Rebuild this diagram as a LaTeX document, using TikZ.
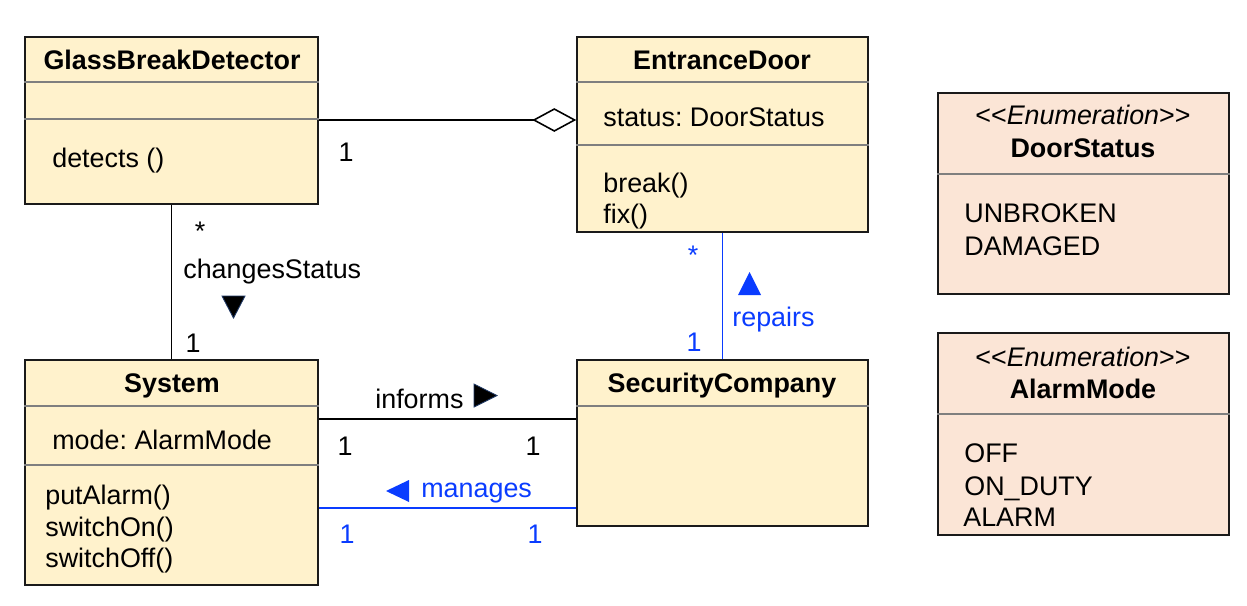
\documentclass[tikz,border=0pt]{standalone}
\usepackage{fontspec}
\setmainfont{Liberation Sans}
\usetikzlibrary{fit,arrows.meta}
\definecolor{cls}{HTML}{FFF2CC}
\definecolor{enm}{HTML}{FBE5D6}
\definecolor{blu}{HTML}{0A3CFF}
\definecolor{bdr}{HTML}{1A1A1A}
\definecolor{dvd}{HTML}{7F7F7F}
\definecolor{tri}{HTML}{1F3864}
\newcommand{\fs}{\fontsize{15.3}{18}\selectfont\frenchspacing}
\begin{document}
\begin{tikzpicture}[x=0.02cm,y=-0.02cm,
  umlbox/.style={draw=bdr, line width=0.85pt, inner sep=0pt},
  divider/.style={draw=dvd, line width=0.6pt},
  lbl/.style={inner sep=0pt, anchor=base west, font=\fs},
  ctr/.style={inner sep=0pt, anchor=base, font=\fs},
  ttl/.style={inner sep=0pt, anchor=base, font=\fs\bfseries},
  conn/.style={line width=0.9pt, draw=black},
  bconn/.style={line width=0.9pt, draw=blu},
  btxt/.style={text=blu}
]
\useasboundingbox (0,0) rectangle (1247,605);

% ---- classes
\node[umlbox, fill=cls, fit={(25,37)(318,204)}] (gbd) {};
\node[umlbox, fill=cls, fit={(577,37)(868,232)}] (ed) {};
\node[umlbox, fill=cls, fit={(25,360)(318,585)}] (sys) {};
\node[umlbox, fill=cls, fit={(577,360)(868,526)}] (sc) {};
\node[umlbox, fill=enm, fit={(938,93)(1229,294)}] (ds) {};
\node[umlbox, fill=enm, fit={(938,333)(1229,535)}] (am) {};

% ---- dividers
\draw[divider] (gbd.west |- 0,82) -- (gbd.east |- 0,82);
\draw[divider] (gbd.west |- 0,119) -- (gbd.east |- 0,119);
\draw[divider] (ed.west |- 0,82) -- (ed.east |- 0,82);
\draw[divider] (ed.west |- 0,145) -- (ed.east |- 0,145);
\draw[divider] (sys.west |- 0,406) -- (sys.east |- 0,406);
\draw[divider] (sys.west |- 0,465) -- (sys.east |- 0,465);
\draw[divider] (sc.west |- 0,406) -- (sc.east |- 0,406);
\draw[divider] (ds.west |- 0,174) -- (ds.east |- 0,174);
\draw[divider] (am.west |- 0,414) -- (am.east |- 0,414);

% ---- class texts
\node[ttl] (gbdT) at (172,69) {GlassBreakDetector};
\node[lbl] (gbdM) at (52,167) {detects ()};
\node[ttl] (edT) at (722,69) {EntranceDoor};
\node[lbl] (edA) at (603,126) {status: DoorStatus};
\node[lbl] (edM1) at (603,192) {break()};
\node[lbl] (edM2) at (603,223) {fix()};
\node[ttl] (sysT) at (172,392) {System};
\node[lbl] (sysA) at (52,449) {mode: AlarmMode};
\node[lbl] (sysM1) at (45,504) {putAlarm()};
\node[lbl] (sysM2) at (45,536) {switchOn()};
\node[lbl] (sysM3) at (45,567) {switchOff()};
\node[ttl] (scT) at (722,392) {SecurityCompany};

\node[ctr] (dsS) at (1083,124) {<{}<\textit{Enumeration}>{}>};
\node[ttl] (dsT) at (1083,157) {DoorStatus};
\node[lbl] (dsL1) at (964,222) {UNBROKEN};
\node[lbl] (dsL2) at (964,255) {DAMAGED};
\node[ctr] (amS) at (1083,366) {<{}<\textit{Enumeration}>{}>};
\node[ttl] (amT) at (1083,398) {AlarmMode};
\node[lbl] (amL1) at (964,462) {OFF};
\node[lbl] (amL2) at (964,495) {ON\_DUTY};
\node[lbl] (amL3) at (963,526) {ALARM};

% ---- connectors
\draw[conn, -{Diamond[open, fill=white, length=25pt, width=13.5pt]}]
  (gbd.east |- 0,120) -- (ed.west |- 0,120);
\node[ctr] (m1) at (346,161) {1};

\draw[conn] (gbd.south) -- (sys.north);
\node[ctr] (m2) at (200,240) {*};
\node[lbl] (cs) at (183,278) {changesStatus};
\draw[fill=black, draw=tri, line width=0.5pt] (222,296) -- (245,296) -- (233.5,318) -- cycle;
\node[ctr] (m3) at (193,352) {1};

\draw[bconn] (ed.south) -- (sc.north);
\node[ctr, btxt] (m4) at (693,264) {*};
\fill[blu] (738,295) -- (761,295) -- (749.5,272) -- cycle;
\node[lbl, btxt] (rep) at (732,326) {repairs};
\node[ctr, btxt] (m5) at (694,351) {1};

\draw[conn] (sys.east |- 0,419) -- (sc.west |- 0,419);
\node[lbl] (inf) at (375,408) {informs};
\draw[fill=black, draw=tri, line width=0.5pt] (474,384) -- (474,407) -- (497,395.5) -- cycle;
\node[ctr] (m6) at (345,455) {1};
\node[ctr] (m7) at (533,455) {1};

\draw[bconn] (sys.east |- 0,508) -- (sc.west |- 0,508);
\fill[blu] (409,480) -- (409,502) -- (386,491) -- cycle;
\node[lbl, btxt] (man) at (421,497) {manages};
\node[ctr, btxt] (m8) at (347,543) {1};
\node[ctr, btxt] (m9) at (535,543) {1};
\end{tikzpicture}
\end{document}
